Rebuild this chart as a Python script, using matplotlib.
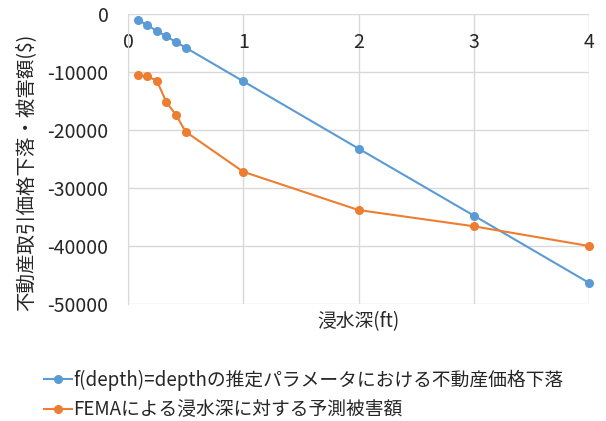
import matplotlib
matplotlib.use("Agg")
import matplotlib.pyplot as plt

plt.rcParams['font.family'] = ['Noto Sans CJK JP', 'DejaVu Sans']

# depth (ft)
depth = [1/12, 2/12, 3/12, 4/12, 5/12, 6/12, 1, 2, 3, 4]
# estimated price drop, f(depth)=depth
price_drop = [-970, -1930, -2900, -3870, -4830, -5800, -11600, -23200, -34750, -46350]
# FEMA damage
fema_damage = [-10600, -10750, -11500, -15200, -17400, -20300, -27200, -33800, -36600, -40000]

labels = ["f(depth)=depthの推定パラメータにおける不動産価格下落",
          "FEMAによる浸水深に対する予測被害額"]
xticks = [0, 1, 2, 3, 4]
yticks = [0, -10000, -20000, -30000, -40000, -50000]

blue = "#5B9BD5"
orange = "#ED7D31"
grid_c = "#D9D9D9"
txt_c = "#262626"

fig = plt.figure(figsize=(6.06, 4.21), dpi=100)
ax = fig.add_axes([128/606, 1 - 304/421, (589-128)/606, (304-14)/421])

ax.plot(depth, price_drop, color=blue, lw=1.5, marker='o', ms=5.5, label=labels[0], clip_on=False, zorder=3)
ax.plot(depth, fema_damage, color=orange, lw=1.5, marker='o', ms=5.5, label=labels[1], clip_on=False, zorder=3)

ax.set_xlim(0, 4)
ax.set_ylim(-50000, 0)
ax.set_xticks(xticks)
ax.set_yticks(yticks)
ax.set_yticklabels([str(v) for v in yticks])
ax.grid(True, color=grid_c, lw=1)
ax.set_axisbelow(True)
for s in ['top', 'right', 'bottom']:
    ax.spines[s].set_visible(False)
ax.spines['left'].set_color(grid_c)
ax.spines['bottom'].set_position(('data', 0))
ax.tick_params(axis='x', length=0, pad=13, labelsize=14, labelcolor=txt_c)
ax.tick_params(axis='y', length=0, pad=14, labelsize=14, labelcolor=txt_c)

ax.set_xlabel("浸水深(ft)", fontsize=13.5, color=txt_c)
ax.xaxis.set_label_coords(0.5, -0.025)
ax.set_ylabel("不動産取引価格下落・被害額($)", fontsize=14, color=txt_c)
ax.yaxis.set_label_coords(-0.20, 0.455)

fig.legend(loc='upper left', bbox_to_anchor=(36/606, 1 - 362/421), frameon=False,
           fontsize=13.5, labelcolor=txt_c, handlelength=1.5, handletextpad=0.1,
           labelspacing=0.45, borderaxespad=0)

fig.savefig("out.png", dpi=100)
